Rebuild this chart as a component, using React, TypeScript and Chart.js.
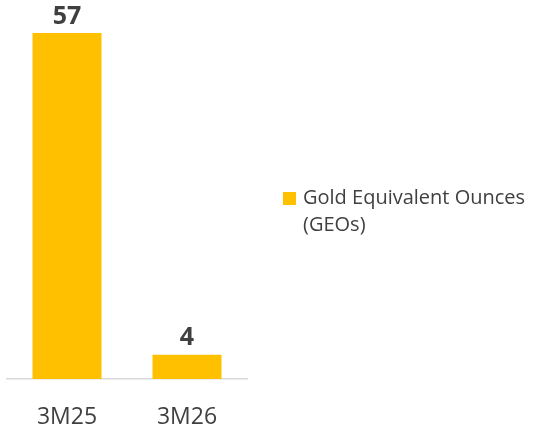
import React, { useEffect, useRef } from "react";
import { Chart, registerables } from "chart.js";

Chart.register(...registerables);

const categories = ["3M25", "3M26"];
const seriesLabel = "Gold Equivalent Ounces (GEOs)";
const legendLines = ["Gold Equivalent Ounces", "(GEOs)"];
const geoValues = [57, 4];

const GOLD = "#FFC000";
const TEXT = "#404040";
const FONT = "'Open Sans', 'DejaVu Sans', sans-serif";

const valueLabels = {
  id: "valueLabels",
  afterDatasetsDraw(chart: any) {
    const ctx = chart.ctx;
    const meta = chart.getDatasetMeta(0);
    ctx.save();
    ctx.fillStyle = TEXT;
    ctx.font = `bold 25px ${FONT}`;
    ctx.textAlign = "center";
    ctx.textBaseline = "bottom";
    meta.data.forEach((bar: any, i: number) => {
      ctx.fillText(String(chart.data.datasets[0].data[i]), bar.x, bar.y - 4);
    });
    ctx.restore();
  },
};

export default function App() {
  const ref = useRef<HTMLCanvasElement | null>(null);
  useEffect(() => {
    if (!ref.current) return;
    const chart = new Chart(ref.current, {
      type: "bar",
      data: {
        labels: categories,
        datasets: [
          {
            label: seriesLabel,
            data: geoValues,
            backgroundColor: GOLD,
            borderWidth: 0,
            categoryPercentage: 1,
            barPercentage: 0.575,
          },
        ],
      },
      options: {
        animation: false,
        responsive: false,
        layout: { padding: { top: 33, left: 7, right: 287, bottom: 0 } },
        plugins: { legend: { display: false }, tooltip: { enabled: false } },
        scales: {
          x: {
            grid: { display: false, drawTicks: false },
            border: { display: true, color: "#D9D9D9", width: 1.5 },
            ticks: { color: TEXT, font: { family: FONT, size: 23 }, padding: 25 },
            afterFit: (scale: any) => {
              scale.height = 50;
            },
          },
          y: { display: false, min: 0, max: 57 },
        },
      },
      plugins: [valueLabels],
    });
    return () => chart.destroy();
  }, []);
  return (
    <div style={{ position: "fixed", left: 0, top: 0, width: 534, height: 429, background: "#fff" }}>
      <canvas ref={ref} width={534} height={429} style={{ width: 534, height: 429 }} />
      <div
        style={{
          position: "absolute",
          left: 283,
          top: 183,
          display: "flex",
          alignItems: "flex-start",
          fontFamily: FONT,
          fontSize: 20,
          lineHeight: "27px",
          color: TEXT,
        }}
      >
        <span style={{ display: "inline-block", width: 13, height: 13, background: GOLD, marginTop: 9, marginRight: 7 }} />
        <div>
          {legendLines.map((l) => (
            <div key={l}>{l}</div>
          ))}
        </div>
      </div>
    </div>
  );
}
